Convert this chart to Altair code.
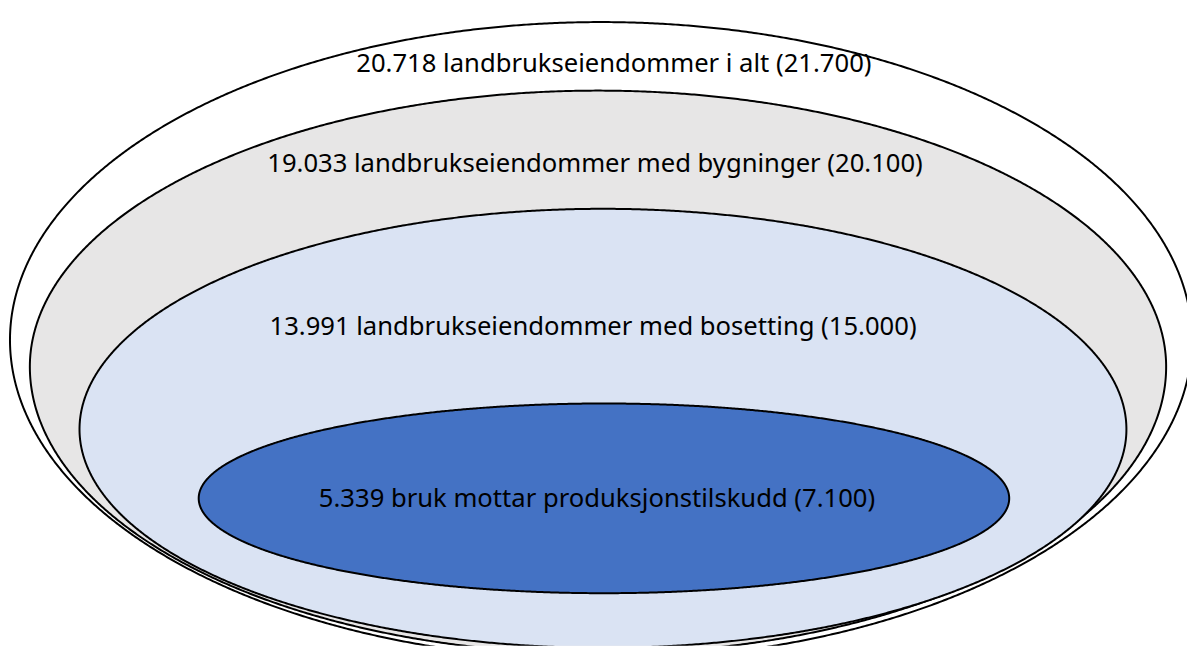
import numpy as np
import pandas as pd
import altair as alt

# ---- data ----
descriptions = [
    "landbrukseiendommer i alt",
    "landbrukseiendommer med bygninger",
    "landbrukseiendommer med bosetting",
    "bruk mottar produksjonstilskudd",
]
counts = [20718, 19033, 13991, 5339]
counts_in_parentheses = [21700, 20100, 15000, 7100]
fill_colors = ["#FFFFFF", "#E7E6E6", "#DAE3F3", "#4472C4"]

# ---- diagram geometry (pixel-like units of the canvas) ----
centre_x = [605, 602, 607, 608]
centre_y = [340, 367, 430, 499.5]
radius_x = [595, 572, 527, 408]
radius_top = [320, 278, 222, 95.5]
radius_bottom = [322, 289, 220, 95.5]
label_x = [618, 599, 597, 601]
label_y = [62, 163, 327, 500]

W, H = 1187, 640
x_scale = alt.Scale(domain=[8, 8 + W], nice=False, zero=False)
y_scale = alt.Scale(domain=[8, 8 + H], nice=False, zero=False, reverse=True)
no_axis = None


def fmt(n):
    return f"{n:,}".replace(",", ".")


layers = []
for i in range(len(counts)):
    t = np.linspace(0, np.pi, 721)
    df = pd.DataFrame({
        "x": centre_x[i] - radius_x[i] * np.cos(t),
        "top": centre_y[i] - radius_top[i] * np.sin(t),
        "bottom": centre_y[i] + radius_bottom[i] * np.sin(t),
    })
    layers.append(
        alt.Chart(df).mark_area(
            fill=fill_colors[i], stroke="#000000", strokeWidth=2, clip=True,
            opacity=1,
        ).encode(
            x=alt.X("x:Q", scale=x_scale, axis=no_axis),
            y=alt.Y("top:Q", scale=y_scale, axis=no_axis),
            y2="bottom:Q",
        )
    )

text_df = pd.DataFrame({
    "label": [f"{fmt(c)} {d} ({fmt(p)})" for c, d, p in zip(counts, descriptions, counts_in_parentheses)],
    "x": label_x,
    "y": label_y,
})
layers.append(
    alt.Chart(text_df).mark_text(
        font="Noto Sans", fontSize=25.8, color="#000000", align="center", baseline="middle"
    ).encode(
        x=alt.X("x:Q", scale=x_scale, axis=no_axis),
        y=alt.Y("y:Q", scale=y_scale, axis=no_axis),
        text="label:N",
    )
)

chart = alt.layer(*layers).properties(
    width=W, height=H, padding=0, autosize=alt.AutoSizeParams(type="none")
).configure(
    background="#FFFFFF",
    view=alt.ViewConfig(strokeWidth=0, stroke="transparent"),
)

chart.save("out.html", embed_options={"renderer": "svg", "actions": False})
